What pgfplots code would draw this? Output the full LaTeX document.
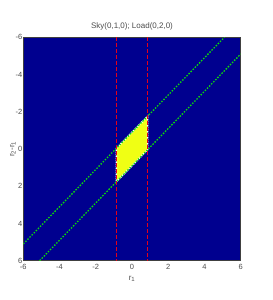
\documentclass[border=0pt]{standalone}
\usepackage{pgfplots}
\pgfplotsset{compat=1.18}
\usepackage{fontspec}
\setmainfont{Liberation Sans}
\definecolor{bgblue}{rgb}{0,0,0.5625}
\definecolor{fillyel}{rgb}{0.94,1,0.08}
\definecolor{lgreen}{rgb}{0.05,0.85,0.05}
\definecolor{lred}{rgb}{0.9,0.0,0.1}
\definecolor{txtgray}{gray}{0.3}
\begin{document}
\begin{tikzpicture}[x=1pt,y=1pt]
\useasboundingbox (0,0) rectangle (273,300);
\begin{axis}[
  at={(23.3pt,39.3pt)}, anchor=south west,
  scale only axis, width=217.4pt, height=223.4pt,
  xmin=-6, xmax=6, ymin=-6, ymax=6,
  y dir=reverse,
  xtick={-6,-4,...,6}, ytick={-6,-4,...,6},
  tick style={draw=none},
  axis line style={draw=black!75, line width=0.6pt},
  axis background/.style={fill=bgblue},
  /pgf/number format/assume math mode=true,
  ticklabel style={font=\fontsize{7.5}{9}\selectfont, text=txtgray},
  xticklabel style={yshift=0pt},
  yticklabel style={xshift=2.5pt},
  title={Sky(0,1,0); Load(0,2,0)},
  title style={font=\fontsize{8}{9}\selectfont, text=txtgray, yshift=-2pt},
  xlabel={r\textsubscript{1}},
  xlabel style={font=\fontsize{8}{9}\selectfont, text=txtgray, at={(axis description cs:0.5,-0.082)}, anchor=center},
  ylabel={r\textsubscript{2}-r\textsubscript{1}},
  ylabel style={font=\fontsize{8}{9}\selectfont, text=txtgray, at={(axis description cs:-0.048,0.5)}, anchor=center},
  clip=true,
]
\addplot[fill=fillyel, draw=none] coordinates {(-0.866,-0.034) (0.866,-1.766) (0.866,0.034) (-0.866,1.766)} -- cycle;
\addplot[draw=white, line width=1.5pt, dash pattern=on 1.2pt off 0.8pt] coordinates {(-0.866,-0.034) (0.866,-1.766) (0.866,0.034) (-0.866,1.766) (-0.866,-0.034)};
\addplot[lgreen, line width=1.3pt, dash pattern=on 1.5pt off 1.5pt] coordinates {(-6,5.1) (5.1,-6)};
\addplot[lgreen, line width=1.3pt, dash pattern=on 1.5pt off 1.5pt] coordinates {(-5.1,6) (6,-5.1)};
\addplot[lred, line width=1.3pt, dash pattern=on 4pt off 2pt] coordinates {(-0.866,-6) (-0.866,6)};
\addplot[lred, line width=1.3pt, dash pattern=on 4pt off 2pt] coordinates {(0.866,-6) (0.866,6)};
\end{axis}
\end{tikzpicture}
\end{document}
